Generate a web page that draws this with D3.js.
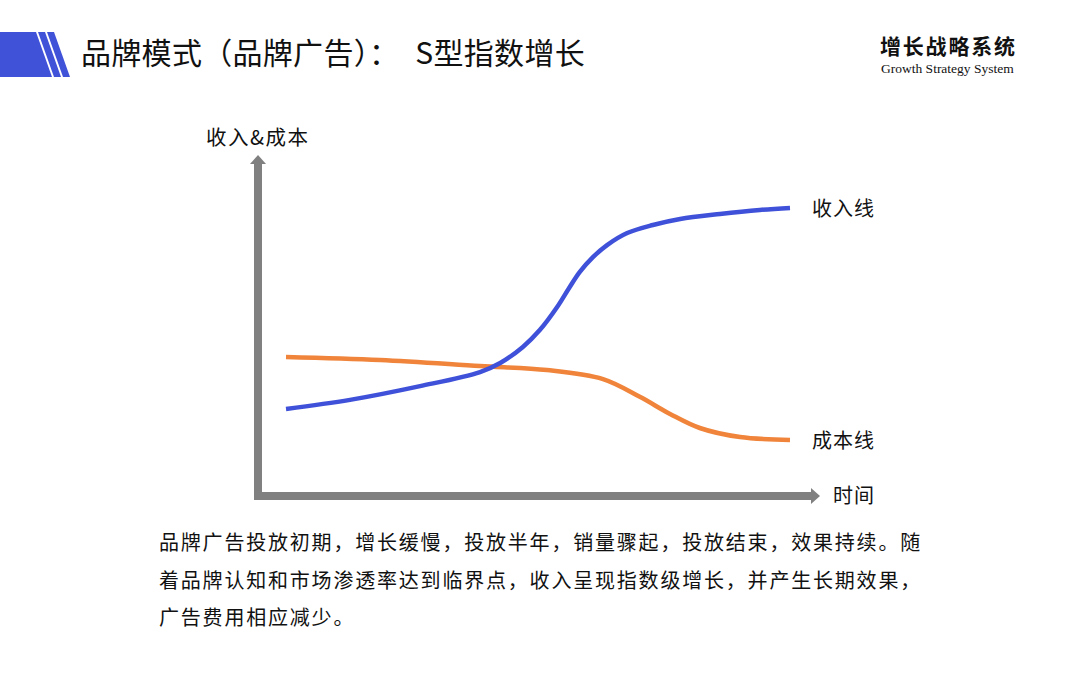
<!DOCTYPE html>
<html>
<head>
<meta charset="utf-8">
<script src="https://cdn.jsdelivr.net/npm/d3@7"></script>
<style>
  body { margin: 0; background: #fff; }
  svg { display: block; font-family: "Noto Sans CJK SC", "Noto Sans", sans-serif; }
</style>
</head>
<body>
<svg id="paper"></svg>
<script>
// time axis (0..100) and value (0..100)
let revenueT = [0, 12.7, 26.6, 38.5, 42.5, 47.0, 50.4, 53.8, 56.3, 58.3, 60.9, 63.7, 67.7, 72.8, 78.2, 86.1, 94.0, 100];
let revenueV = [25.7, 28.4, 32.5, 36.7, 39.4, 44.2, 49.3, 56.1, 62.1, 66.6, 71.0, 74.6, 78.2, 80.6, 82.4, 83.9, 85.1, 85.7];
let costT = [0, 18.7, 38.5, 51.8, 62.9, 70.2, 76.2, 82.1, 90.1, 100];
let costV = [41.2, 40.3, 38.5, 37.3, 34.6, 29.3, 24.2, 20.0, 17.3, 16.4];

let seriesNames = ["收入线", "成本线"];
let axisNames = ["收入&成本", "时间"];
let titleParts = ["品牌模式（品牌广告）：", "S型指数增长"];
let brand = "增长战略系统";
let brandEn = "Growth Strategy System";
let bodyLines = [
    "品牌广告投放初期，增长缓慢，投放半年，销量骤起，投放结束，效果持续。随",
    "着品牌认知和市场渗透率达到临界点，收入呈现指数级增长，并产生长期效果，",
    "广告费用相应减少。"
];

let blue = "#3f51d9", orange = "#f0843a", gray = "#808080";

let width = 1080, height = 673;
let svg = d3.select("#paper")
    .attr("width", width)
    .attr("height", height);

// header banner
let banner = svg.append("g");
banner.append("polygon")
    .attr("points", "0,32 36,32 52,77 0,77")
    .attr("fill", "#4052d8");
banner.append("polygon")
    .attr("points", "38,32 45,32 61,77 54,77")
    .attr("fill", "#4052d8");
banner.append("polygon")
    .attr("points", "47,32 54,32 70,77 63,77")
    .attr("fill", "#4052d8");

let title = svg.append("text")
    .attr("x", 81)
    .attr("y", 64)
    .attr("font-size", 30)
    .attr("letter-spacing", 0.3)
    .attr("fill", "#111");
title.append("tspan").text(titleParts[0]);
title.append("tspan").attr("dx", 16).text(titleParts[1]);

svg.append("text")
    .attr("x", 880)
    .attr("y", 54)
    .attr("font-size", 21)
    .attr("font-weight", 700)
    .attr("letter-spacing", 1.8)
    .attr("fill", "#111")
    .text(brand);
svg.append("text")
    .attr("x", 881)
    .attr("y", 73)
    .attr("font-size", 13.5)
    .attr("font-family", "Liberation Serif, serif")
    .attr("fill", "#111")
    .text(brandEn);

// scales
let x = d3.scaleLinear().domain([0, 100]).range([286, 790]);
let y = d3.scaleLinear().domain([0, 100]).range([495, 160]);

// axes as arrows
let axisX = x(0) - 28, axisY = y(0) + 1;
let g = svg.append("g");
g.append("line")
    .attr("x1", axisX).attr("y1", axisY + 4)
    .attr("x2", axisX).attr("y2", y(100) + 2)
    .attr("stroke", gray).attr("stroke-width", 8);
g.append("polygon")
    .attr("points", [[axisX - 8, y(100) + 4], [axisX, y(100) - 5], [axisX + 8, y(100) + 4]].join(" "))
    .attr("fill", gray);
g.append("line")
    .attr("x1", axisX - 4).attr("y1", axisY)
    .attr("x2", x(100) + 22).attr("y2", axisY)
    .attr("stroke", gray).attr("stroke-width", 8);
g.append("polygon")
    .attr("points", [[x(100) + 21, axisY - 8], [x(100) + 30, axisY], [x(100) + 21, axisY + 8]].join(" "))
    .attr("fill", gray);

g.append("text")
    .attr("x", 206)
    .attr("y", 145)
    .attr("font-size", 20.5)
    .attr("letter-spacing", 1.5)
    .attr("fill", "#111")
    .text(axisNames[0]);
g.append("text")
    .attr("x", x(100) + 43)
    .attr("y", axisY + 7)
    .attr("font-size", 20)
    .attr("letter-spacing", 1)
    .attr("fill", "#111")
    .text(axisNames[1]);

// curves
let line = d3.line()
    .x(d => x(d[0]))
    .y(d => y(d[1]))
    .curve(d3.curveCatmullRom.alpha(0.5));

let revenue = revenueT.map((t, i) => [t, revenueV[i]]);
let cost = costT.map((t, i) => [t, costV[i]]);

g.append("path")
    .datum(cost)
    .attr("d", line)
    .attr("fill", "none")
    .attr("stroke", orange)
    .attr("stroke-width", 4.5);
g.append("path")
    .datum(revenue)
    .attr("d", line)
    .attr("fill", "none")
    .attr("stroke", blue)
    .attr("stroke-width", 4.5);

g.selectAll(".series-label")
    .data([revenue, cost])
    .enter()
    .append("text")
    .classed("series-label", true)
    .attr("x", d => x(d[d.length - 1][0]) + 22)
    .attr("y", d => y(d[d.length - 1][1]) + 8)
    .attr("font-size", 20)
    .attr("letter-spacing", 1)
    .attr("fill", "#111")
    .text((d, i) => seriesNames[i]);

// description
svg.selectAll(".body-line")
    .data(bodyLines)
    .enter()
    .append("text")
    .classed("body-line", true)
    .attr("x", 159)
    .attr("y", (d, i) => 550 + i * 37.5)
    .attr("font-size", 20)
    .attr("letter-spacing", 1.8)
    .attr("fill", "#111")
    .text(d => d);
</script>
</body>
</html>
